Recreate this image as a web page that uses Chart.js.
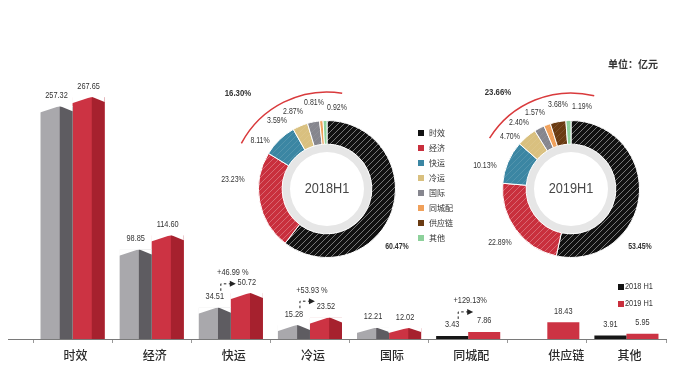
<!DOCTYPE html>
<html><head><meta charset="utf-8">
<script src="https://cdn.jsdelivr.net/npm/chart.js@4.4.1/dist/chart.umd.min.js"></script>
<style>
html,body{margin:0;padding:0;background:#fff;overflow:hidden;width:696px;height:383px;}
#wrap{position:relative;width:696px;height:383px;overflow:hidden;}
canvas{position:absolute;}
</style></head><body>
<div id="wrap">
<canvas id="bar" width="696" height="383" style="left:0;top:0"></canvas>
<canvas id="d18" width="300" height="300" style="left:177px;top:39px"></canvas>
<canvas id="d19" width="300" height="300" style="left:421px;top:39px"></canvas>
</div>
<script>
// ---------- data ----------
const categories = ['时效','经济','快运','冷运','国际','同城配','供应链','其他'];
const seriesNames = ['2018 H1','2019 H1'];
const revenue2018 = [257.32, 98.85, 34.51, 15.28, 12.21, 3.43, null, 3.91];
const revenue2019 = [267.65, 114.60, 50.72, 23.52, 12.02, 7.86, 18.43, 5.95];
const growthLabels = [null, null, '+46.99 %', '+53.93 %', null, '+129.13%', null, null];
const share2018 = [60.47, 23.23, 8.11, 3.59, 2.87, 0.81, 0, 0.92];
const share2019 = [53.45, 22.89, 10.13, 4.70, 2.40, 1.57, 3.68, 1.19];
const otherShare = [16.30, 23.66];
const donutTitles = ['2018H1', '2019H1'];
const unitLabel = '单位：亿元';

// ---------- styles ----------
const NUM = '"Liberation Sans","Noto Sans",sans-serif';
const CJK = '"Noto Sans CJK SC","Noto Sans",sans-serif';
const NARROW = 0.82;
const segColors = ['#111111','#c92f3d','#3b86a3','#d9c07f','#86868e','#f0a05a','#6a3b12','#8dd19b'];
const lightGray = '#a9a8ac', darkGray = '#5e5c61', lightRed = '#cc3343', darkRed = '#a6212e';
const colors2018 = [lightGray, lightGray, lightGray, lightGray, lightGray, '#161616', lightGray, '#161616'];
const colors2019 = revenue2019.map(() => lightRed);
const shade3d = [true, true, true, true, true, false, false, false];
const darkFaces = [darkGray, darkRed];

function narrowText(ctx, text, x, y, sx) {
  ctx.save();
  ctx.translate(x, y);
  ctx.scale(sx || NARROW, 1);
  ctx.fillText(text, 0, 0);
  ctx.restore();
}

// ---------- bar chart plugins ----------
const bar3d = {
  id: 'bar3d',
  afterDatasetsDraw(chart) {
    const ctx = chart.ctx;
    chart.data.datasets.forEach((ds, di) => {
      const meta = chart.getDatasetMeta(di);
      meta.data.forEach((el, i) => {
        if (ds.data[i] == null || !shade3d[i]) return;
        const {x, y, base, width} = el.getProps(['x','y','base','width'], true);
        const left = x - width / 2, right = x + width / 2, div = left + width * 0.6;
        const h = base - y, roof = Math.min(6, h * 0.45);
        ctx.save();
        ctx.fillStyle = darkFaces[di];
        ctx.fillRect(div, y, right - div, h);
        ctx.fillStyle = '#fff';
        ctx.beginPath(); ctx.moveTo(left - 0.5, y - 0.5); ctx.lineTo(div, y - 0.5); ctx.lineTo(left - 0.5, y + roof); ctx.closePath(); ctx.fill();
        ctx.beginPath(); ctx.moveTo(div, y - 0.5); ctx.lineTo(right, y - 0.5); ctx.lineTo(right, y + roof * 0.8); ctx.closePath(); ctx.fill();
        ctx.restore();
      });
    });
  }
};

function dashedArrow(ctx, x0, y0, yH, xEnd) {
  ctx.save();
  ctx.strokeStyle = '#222'; ctx.lineWidth = 1; ctx.setLineDash([2.5, 2.5]);
  ctx.beginPath(); ctx.moveTo(x0, y0); ctx.lineTo(x0, yH); ctx.lineTo(xEnd - 5, yH); ctx.stroke();
  ctx.setLineDash([]); ctx.fillStyle = '#222';
  ctx.beginPath(); ctx.moveTo(xEnd, yH); ctx.lineTo(xEnd - 6, yH - 3); ctx.lineTo(xEnd - 6, yH + 3); ctx.closePath(); ctx.fill();
  ctx.restore();
}

const barLabels = {
  id: 'barLabels',
  afterDraw(chart) {
    const ctx = chart.ctx, xs = chart.scales.x, ca = chart.chartArea;
    const m0 = chart.getDatasetMeta(0), m1 = chart.getDatasetMeta(1);
    ctx.save();
    ctx.strokeStyle = '#7a7a7a'; ctx.lineWidth = 1;
    ctx.beginPath(); ctx.moveTo(8, ca.bottom + 0.5); ctx.lineTo(ca.left, ca.bottom + 0.5); ctx.stroke();
    ctx.textAlign = 'center'; ctx.textBaseline = 'middle';
    [m0, m1].forEach((meta, di) => {
      const ds = chart.data.datasets[di];
      meta.data.forEach((el, i) => {
        const v = ds.data[i]; if (v == null) return;
        ctx.font = '9px ' + NUM; ctx.fillStyle = '#333';
        narrowText(ctx, v.toFixed(2), el.x, el.y - 11);
      });
    });
    growthLabels.forEach((g, i) => {
      if (!g) return;
      const cx = xs.getPixelForValue(i);
      const ly = m0.data[i].y - 11;
      const ay = ly - 13;
      dashedArrow(ctx, cx - 10, ly - 6, ay, cx + 5);
      ctx.font = '9px ' + NUM; ctx.fillStyle = '#333';
      narrowText(ctx, g, cx + 2, ay - 11);
    });
    ctx.font = '500 12px ' + CJK; ctx.fillStyle = '#2b2b2b';
    categories.forEach((c, i) => {
      const xsArr = [];
      if (revenue2018[i] != null) xsArr.push(m0.data[i].x);
      if (revenue2019[i] != null) xsArr.push(m1.data[i].x);
      const x = xsArr.reduce((a, b) => a + b, 0) / xsArr.length;
      ctx.fillText(c, x + 3, ca.bottom + 16);
    });
    const legCol = ['#111', '#c92f3d'];
    ctx.textAlign = 'left'; ctx.font = '9px ' + NUM;
    seriesNames.forEach((n, k) => {
      const yy = 287 + k * 17;
      ctx.fillStyle = legCol[k]; ctx.fillRect(618, yy - 3, 6, 6);
      ctx.fillStyle = '#333'; narrowText(ctx, n, 625, yy);
    });
    ctx.textAlign = 'center'; ctx.font = 'bold 10px ' + CJK; ctx.fillStyle = '#333';
    ctx.fillText(unitLabel, 633, 64);
    ctx.restore();
  }
};

new Chart(document.getElementById('bar'), {
  type: 'bar',
  data: {
    labels: categories,
    datasets: [
      {label: seriesNames[0], data: revenue2018, backgroundColor: colors2018},
      {label: seriesNames[1], data: revenue2019, backgroundColor: colors2019}
    ]
  },
  options: {
    responsive: false, animation: false, events: [],
    layout: {padding: {left: 33, right: 30, top: 68, bottom: 0}},
    datasets: {bar: {barPercentage: 1, categoryPercentage: 0.81, borderWidth: 0}},
    scales: {
      x: {
        grid: {display: true, drawOnChartArea: false, drawTicks: true, tickLength: 4, color: '#999'},
        border: {color: '#7a7a7a', width: 1},
        ticks: {display: false},
        afterFit(s) { s.height = 44; }
      },
      y: {display: false, min: 0, max: 300}
    },
    plugins: {legend: {display: false}, tooltip: {enabled: false}}
  },
  plugins: [bar3d, barLabels]
});

// ---------- doughnuts ----------
function hatch(color, alpha) {
  const c = document.createElement('canvas'); c.width = 6; c.height = 6;
  const g = c.getContext('2d');
  g.fillStyle = color; g.fillRect(0, 0, 6, 6);
  g.strokeStyle = 'rgba(255,255,255,' + alpha + ')'; g.lineWidth = 0.8;
  g.beginPath();
  g.moveTo(0, 6); g.lineTo(6, 0);
  g.moveTo(-1, 1); g.lineTo(1, -1);
  g.moveTo(5, 7); g.lineTo(7, 5);
  g.stroke();
  return g.createPattern(c, 'repeat');
}
const hatchAlpha = [0.55, 0.35, 0.15, 0.1, 0.1, 0.1, 0.15, 0.1];
const segFills = segColors.map((c, i) => hatch(c, hatchAlpha[i]));

const labelOffsets = [
  [[70,58],[-94,-9],[-67,-48],[-50,-68],[-34,-77],[-13,-86],null,[10,-81]],
  [[69,58],[-71,54],[-86,-23],[-61,-52],[-52,-66],[-36,-76],[-13,-84],[11,-82]]
];
const otherLabelOffsets = [[-89,-96],[-73,-97]];
const arcSpec = [[-152,-81,97],[-148,-76,96]];

function donutPlugin(k) {
  return {
    id: 'donutDeco' + k,
    afterDraw(chart) {
      const ctx = chart.ctx;
      const arc0 = chart.getDatasetMeta(0).data[0];
      const cx = arc0.x, cy = arc0.y;
      const shares = chart.data.datasets[0].data;
      ctx.save();
      ctx.textAlign = 'center'; ctx.textBaseline = 'middle';
      ctx.font = '15px ' + NUM; ctx.fillStyle = '#474747';
      narrowText(ctx, donutTitles[k], cx, cy, 0.85);
      shares.forEach((v, i) => {
        const off = labelOffsets[k][i]; if (!off || !v) return;
        ctx.font = (i === 0 ? 'bold ' : '') + '8.5px ' + NUM; ctx.fillStyle = '#333';
        narrowText(ctx, v.toFixed(2) + '%', cx + off[0], cy + off[1]);
      });
      ctx.font = 'bold 9.5px ' + NUM; ctx.fillStyle = '#333';
      narrowText(ctx, otherShare[k].toFixed(2) + '%', cx + otherLabelOffsets[k][0], cy + otherLabelOffsets[k][1]);
      const a = arcSpec[k];
      ctx.strokeStyle = '#d93a3c'; ctx.lineWidth = 1.5;
      ctx.beginPath(); ctx.arc(cx, cy, a[2], a[0] * Math.PI / 180, a[1] * Math.PI / 180); ctx.stroke();
      if (k === 0) {
        ctx.textAlign = 'left'; ctx.font = '8px ' + CJK;
        categories.forEach((c, i) => {
          const yy = cy - 56 + i * 15;
          ctx.fillStyle = segColors[i]; ctx.fillRect(cx + 91, yy - 3, 6, 6);
          ctx.fillStyle = '#333'; ctx.fillText(c, cx + 102, yy);
        });
      }
      ctx.restore();
    }
  };
}

[['d18', share2018], ['d19', share2019]].forEach(([id, shares], k) => {
  new Chart(document.getElementById(id), {
    type: 'doughnut',
    data: {
      labels: categories,
      datasets: [
        {data: shares, backgroundColor: segFills, borderColor: '#fff', borderWidth: 1, weight: 3},
        {data: [1], backgroundColor: '#e6e6e6', borderWidth: 0, weight: 1}
      ]
    },
    options: {
      responsive: false, animation: false, events: [],
      cutout: '54%',
      layout: {padding: 81},
      plugins: {legend: {display: false}, tooltip: {enabled: false}}
    },
    plugins: [donutPlugin(k)]
  });
});
</script>
</body></html>
